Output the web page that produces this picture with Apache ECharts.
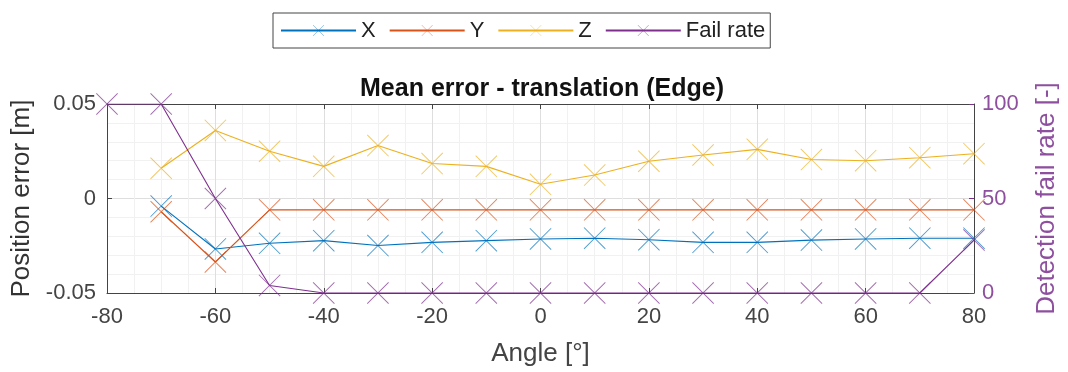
<!DOCTYPE html>
<html>
<head>
<meta charset="utf-8">
<script src="https://cdn.jsdelivr.net/npm/echarts@6/dist/echarts.min.js"></script>
<style>html,body{margin:0;padding:0;background:#fff;}#c{width:1068px;height:372px;}</style>
</head>
<body>
<div id="c"></div>
<script>
const angles = [-70,-60,-50,-40,-30,-20,-10,0,10,20,30,40,50,60,70,80];
const xErr = [-0.004,-0.0267,-0.0237,-0.0223,-0.0249,-0.0232,-0.0223,-0.0214,-0.021,-0.0218,-0.0232,-0.0232,-0.022,-0.0214,-0.021,-0.021];
const yErr = [-0.007,-0.0336,-0.006,-0.006,-0.006,-0.006,-0.006,-0.006,-0.006,-0.006,-0.006,-0.006,-0.006,-0.006,-0.006,-0.006];
const zErr = [0.016,0.036,0.025,0.017,0.028,0.0185,0.017,0.0075,0.0124,0.0197,0.023,0.026,0.0206,0.020,0.0216,0.0237];
const failAngles = [-80,-70,-60,-50,-40,-30,-20,-10,0,10,20,30,40,50,60,70,80];
const failRate = [100,100,50,4,0,0,0,0,0,0,0,0,0,0,0,0,28];
const seriesNames = ['X','Y','Z','Fail rate'];
const colors = ['#0072BD','#D95319','#EDB120','#7E2F8E'];

const cross = 'path://M0,3L3,0L100,97L97,100Z M97,0L100,3L3,100L0,97Z';
const pairs = (xs, ys) => xs.map((x,i)=>[x, ys[i]]);
const font = 'Liberation Sans, Arial, sans-serif';

function mk(name, data, color, yIdx){
  return {
    name, type:'line', data, yAxisIndex:yIdx, xAxisIndex:0,
    symbol: cross, symbolSize: 22, showSymbol:true,
    lineStyle:{color, width:1.1},
    itemStyle:{color, opacity:0.7},
    emphasis:{disabled:true}, animation:false, z: 3
  };
}

const chart = echarts.init(document.getElementById('c'));
chart.setOption({
  animation:false,
  color: colors,
  title:{
    text:'Mean error - translation (Edge)', left:537, top:72, textAlign:'center',
    textStyle:{fontFamily:font, fontSize:25, fontWeight:'bold', color:'#111'}
  },
  legend:{
    data: seriesNames, left:273, top:13,
    padding:[6,5,6,7], itemGap:13, itemWidth:75, itemHeight:14,
    borderColor:'#444', borderWidth:1, backgroundColor:'#fff',
    textStyle:{fontFamily:font, fontSize:22, color:'#222', lineHeight:23}
  },
  grid:{left:107, right:93, top:104, bottom:76, show:false},
  xAxis:[{
    type:'value', min:-80, max:80, interval:20, position:'bottom',
    name:'Angle [°]', nameLocation:'middle', nameGap:48,
    nameTextStyle:{fontFamily:font, fontSize:26, color:'#444'},
    axisLine:{show:true, onZero:false, lineStyle:{color:'#444', width:1}},
    axisTick:{show:true, inside:true, length:5, lineStyle:{color:'#444'}},
    minorTick:{show:false, splitNumber:4},
    axisLabel:{fontFamily:font, fontSize:22, color:'#444', margin:13},
    splitLine:{show:true, lineStyle:{color:'#dedede', width:1}},
    minorSplitLine:{show:true, lineStyle:{color:'#f1f1f1', width:1}}
  },{
    type:'value', min:-80, max:80, interval:20, position:'top',
    axisLine:{show:true, onZero:false, lineStyle:{color:'#444', width:1}},
    axisTick:{show:true, inside:true, length:5, lineStyle:{color:'#444'}},
    axisLabel:{show:false}, splitLine:{show:false}
  }],
  yAxis:[{
    type:'value', min:-0.05, max:0.05, interval:0.05, position:'left',
    name:'Position error [m]', nameLocation:'middle', nameGap:58,
    nameTextStyle:{fontFamily:font, fontSize:26, color:'#333'},
    axisLine:{show:true, onZero:false, lineStyle:{color:'#444', width:1}},
    axisTick:{show:true, inside:true, length:5, lineStyle:{color:'#444'}},
    minorTick:{show:false, splitNumber:5},
    axisLabel:{fontFamily:font, fontSize:22, color:'#444', margin:11,
      formatter:v=> (Math.abs(v)<1e-9?'0':String(+v.toFixed(2)))},
    splitLine:{show:true, lineStyle:{color:'#dedede', width:1}},
    minorSplitLine:{show:true, lineStyle:{color:'#f1f1f1', width:1}}
  },{
    type:'value', min:0, max:100, interval:50, position:'right',
    name:'Detection fail rate [-]', nameLocation:'middle', nameGap:60,
    nameTextStyle:{fontFamily:font, fontSize:26, color:'#8e4f9e'},
    axisLine:{show:true, onZero:false, lineStyle:{color:'#444', width:1}},
    axisTick:{show:true, inside:true, length:5, lineStyle:{color:'#7E2F8E'}},
    axisLabel:{fontFamily:font, fontSize:22, color:'#8e4f9e', margin:8},
    splitLine:{show:false}
  }],
  series:[
    mk('X', pairs(angles, xErr), colors[0], 0),
    mk('Y', pairs(angles, yErr), colors[1], 0),
    mk('Z', pairs(angles, zErr), colors[2], 0),
    mk('Fail rate', pairs(failAngles, failRate), colors[3], 1)
  ]
});
</script>
</body>
</html>
